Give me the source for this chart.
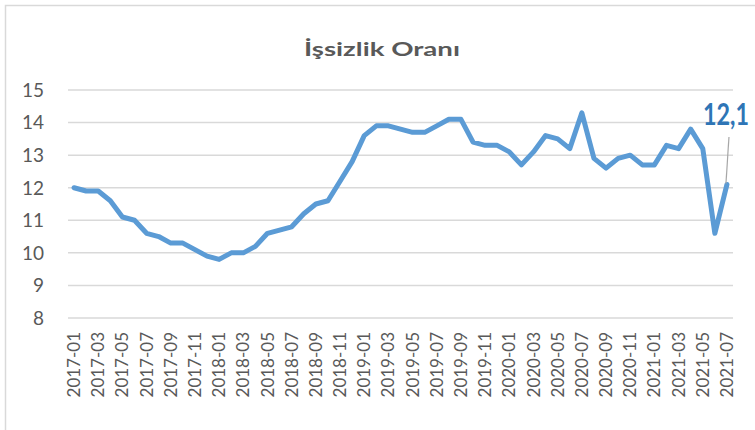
<!DOCTYPE html>
<html>
<head>
<meta charset="utf-8">
<script src="https://cdn.jsdelivr.net/npm/d3@7"></script>
<style>
  body { margin: 0; background: #fff; }
  svg { display: block; font-family: Lato, "Open Sans", sans-serif; }
</style>
</head>
<body>
<main></main>
<script>
// monthly labels 2017-01 .. 2021-07
const months = []
for (let y = 2017; y <= 2021; y++) {
  for (let m = 1; m <= 12; m++) {
    if (y === 2021 && m > 7) break
    months.push(`${y}-${String(m).padStart(2, "0")}`)
  }
}

const rates = [
  12.0, 11.9, 11.9, 11.6, 11.1, 11.0, 10.6, 10.5, 10.3, 10.3, 10.1, 9.9,
  9.8, 10.0, 10.0, 10.2, 10.6, 10.7, 10.8, 11.2, 11.5, 11.6, 12.2, 12.8,
  13.6, 13.9, 13.9, 13.8, 13.7, 13.7, 13.9, 14.1, 14.1, 13.4, 13.3, 13.3,
  13.1, 12.7, 13.1, 13.6, 13.5, 13.2, 14.3, 12.9, 12.6, 12.9, 13.0, 12.7,
  12.7, 13.3, 13.2, 13.8, 13.2, 10.6, 12.1,
]

const yTicks = [8, 9, 10, 11, 12, 13, 14, 15]
const title = "İşsizlik Oranı"
const lastLabel = "12,1"

const w = 755
const h = 430
const margin = { top: 90, right: 22, bottom: 112, left: 68 }

const svg = d3
  .select("main")
  .append("svg")
  .attr("width", w)
  .attr("height", h)

// chart frame
svg
  .append("rect")
  .attr("x", 5.5)
  .attr("y", 5.5)
  .attr("width", w)
  .attr("height", h)
  .attr("fill", "none")
  .attr("stroke", "#d9d9d9")
  .attr("stroke-width", 1.5)

svg
  .append("text")
  .attr("x", 382)
  .attr("y", 56)
  .attr("text-anchor", "middle")
  .attr("font-size", "19px")
  .attr("font-weight", "bold")
  .attr("fill", "#595959")
  .attr("textLength", 156)
  .attr("lengthAdjust", "spacingAndGlyphs")
  .text(title)

const x = d3
  .scaleBand()
  .domain(months)
  .range([margin.left, w - margin.right])

const y = d3
  .scaleLinear()
  .domain([8, 15])
  .range([h - margin.bottom, margin.top])

// gridlines + y labels
svg
  .append("g")
  .selectAll("line")
  .data(yTicks)
  .enter()
  .append("line")
  .attr("x1", margin.left)
  .attr("x2", w - margin.right)
  .attr("y1", (d) => y(d))
  .attr("y2", (d) => y(d))
  .attr("stroke", "#d9d9d9")
  .attr("stroke-width", 1.5)

svg
  .append("g")
  .selectAll("text")
  .data(yTicks)
  .enter()
  .append("text")
  .attr("x", 44)
  .attr("y", (d) => y(d))
  .attr("dy", "0.36em")
  .attr("text-anchor", "end")
  .attr("font-size", "19px")
  .attr("fill", "#595959")
  .text((d) => d)

// x labels, every other month
svg
  .append("g")
  .selectAll("text")
  .data(months.filter((d, i) => i % 2 === 0))
  .enter()
  .append("text")
  .attr("transform", (d) => `translate(${x(d) + x.bandwidth() / 2 + 6}, 332) rotate(-90)`)
  .attr("text-anchor", "end")
  .attr("font-size", "17px")
  .attr("fill", "#595959")
  .text((d) => d)

const line = d3
  .line()
  .x((d, i) => x(months[i]) + x.bandwidth() / 2)
  .y((d) => y(d))

svg
  .append("path")
  .datum(rates)
  .attr("d", line)
  .attr("fill", "none")
  .attr("stroke", "#5b9bd5")
  .attr("stroke-width", 5)
  .attr("stroke-linejoin", "round")
  .attr("stroke-linecap", "round")

// label for last value
const lx = x(months[months.length - 1]) + x.bandwidth() / 2
const ly = y(rates[rates.length - 1])

svg
  .append("line")
  .attr("x1", lx - 1)
  .attr("y1", ly - 1)
  .attr("x2", lx + 2)
  .attr("y2", 137)
  .attr("stroke", "#a6a6a6")
  .attr("stroke-width", 1.2)

svg
  .append("text")
  .attr("x", 703)
  .attr("y", 125)
  .attr("font-size", "31px")
  .attr("font-weight", "bold")
  .attr("fill", "#2e75b6")
  .attr("textLength", 46)
  .attr("lengthAdjust", "spacingAndGlyphs")
  .text(lastLabel)
</script>
</body>
</html>
